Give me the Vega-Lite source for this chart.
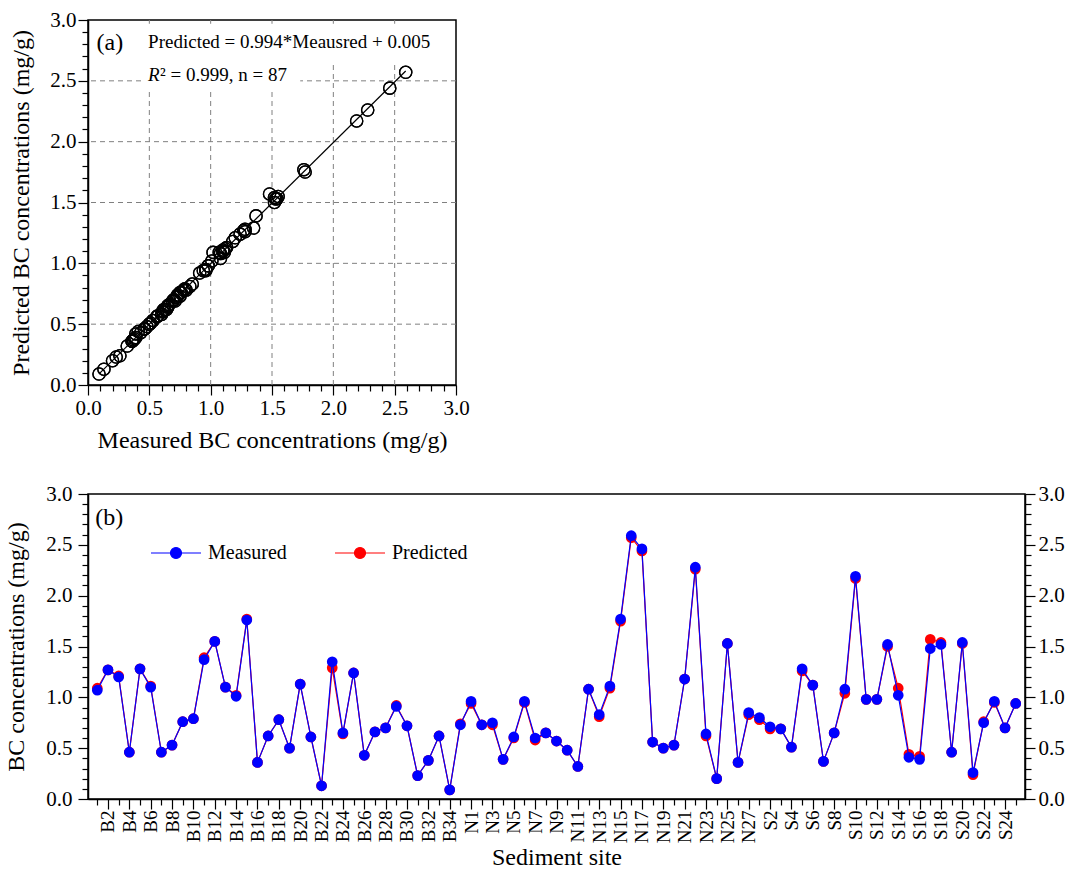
{
  "$schema": "https://vega.github.io/schema/vega-lite/v6.json",
  "padding": {"left": 4, "top": 8, "right": 5, "bottom": 1},
  "background": "white",
  "bounds": "flush",
  "datasets": {
    "grid": [{"g": 0.5}, {"g": 1.0}, {"g": 1.5}, {"g": 2.0}, {"g": 2.5}],
    "bc": [
      {"site": "B1", "measured": 1.07, "predicted": 1.09},
      {"site": "B2", "measured": 1.27, "predicted": 1.27},
      {"site": "B3", "measured": 1.20, "predicted": 1.21},
      {"site": "B4", "measured": 0.46, "predicted": 0.46},
      {"site": "B5", "measured": 1.28, "predicted": 1.28},
      {"site": "B6", "measured": 1.10, "predicted": 1.11},
      {"site": "B7", "measured": 0.46, "predicted": 0.46},
      {"site": "B8", "measured": 0.53, "predicted": 0.53},
      {"site": "B9", "measured": 0.76, "predicted": 0.76},
      {"site": "B10", "measured": 0.79, "predicted": 0.79},
      {"site": "B11", "measured": 1.37, "predicted": 1.39},
      {"site": "B12", "measured": 1.55, "predicted": 1.55},
      {"site": "B13", "measured": 1.10, "predicted": 1.10},
      {"site": "B14", "measured": 1.01, "predicted": 1.02},
      {"site": "B15", "measured": 1.76, "predicted": 1.77},
      {"site": "B16", "measured": 0.36, "predicted": 0.36},
      {"site": "B17", "measured": 0.62, "predicted": 0.62},
      {"site": "B18", "measured": 0.78, "predicted": 0.78},
      {"site": "B19", "measured": 0.50, "predicted": 0.50},
      {"site": "B20", "measured": 1.13, "predicted": 1.13},
      {"site": "B21", "measured": 0.61, "predicted": 0.61},
      {"site": "B22", "measured": 0.13, "predicted": 0.13},
      {"site": "B23", "measured": 1.35, "predicted": 1.29},
      {"site": "B24", "measured": 0.65, "predicted": 0.64},
      {"site": "B25", "measured": 1.24, "predicted": 1.24},
      {"site": "B26", "measured": 0.43, "predicted": 0.43},
      {"site": "B27", "measured": 0.66, "predicted": 0.66},
      {"site": "B28", "measured": 0.70, "predicted": 0.70},
      {"site": "B29", "measured": 0.91, "predicted": 0.92},
      {"site": "B30", "measured": 0.72, "predicted": 0.72},
      {"site": "B31", "measured": 0.23, "predicted": 0.23},
      {"site": "B32", "measured": 0.38, "predicted": 0.38},
      {"site": "B33", "measured": 0.62, "predicted": 0.62},
      {"site": "B34", "measured": 0.09, "predicted": 0.09},
      {"site": "B35", "measured": 0.73, "predicted": 0.74},
      {"site": "N1", "measured": 0.96, "predicted": 0.94},
      {"site": "N2", "measured": 0.73, "predicted": 0.73},
      {"site": "N3", "measured": 0.75, "predicted": 0.73},
      {"site": "N4", "measured": 0.39, "predicted": 0.39},
      {"site": "N5", "measured": 0.61, "predicted": 0.60},
      {"site": "N6", "measured": 0.96, "predicted": 0.95},
      {"site": "N7", "measured": 0.60, "predicted": 0.58},
      {"site": "N8", "measured": 0.65, "predicted": 0.65},
      {"site": "N9", "measured": 0.57, "predicted": 0.57},
      {"site": "N10", "measured": 0.48, "predicted": 0.48},
      {"site": "N11", "measured": 0.32, "predicted": 0.32},
      {"site": "N12", "measured": 1.08, "predicted": 1.08},
      {"site": "N13", "measured": 0.83, "predicted": 0.81},
      {"site": "N14", "measured": 1.11, "predicted": 1.09},
      {"site": "N15", "measured": 1.77, "predicted": 1.75},
      {"site": "N16", "measured": 2.59, "predicted": 2.57},
      {"site": "N17", "measured": 2.46, "predicted": 2.44},
      {"site": "N18", "measured": 0.56, "predicted": 0.56},
      {"site": "N19", "measured": 0.50, "predicted": 0.50},
      {"site": "N20", "measured": 0.53, "predicted": 0.53},
      {"site": "N21", "measured": 1.18, "predicted": 1.18},
      {"site": "N22", "measured": 2.28, "predicted": 2.26},
      {"site": "N23", "measured": 0.64, "predicted": 0.62},
      {"site": "N24", "measured": 0.20, "predicted": 0.20},
      {"site": "N25", "measured": 1.53, "predicted": 1.53},
      {"site": "N26", "measured": 0.36, "predicted": 0.36},
      {"site": "N27", "measured": 0.85, "predicted": 0.83},
      {"site": "S1", "measured": 0.80, "predicted": 0.78},
      {"site": "S2", "measured": 0.71, "predicted": 0.69},
      {"site": "S3", "measured": 0.69, "predicted": 0.69},
      {"site": "S4", "measured": 0.51, "predicted": 0.51},
      {"site": "S5", "measured": 1.28, "predicted": 1.26},
      {"site": "S6", "measured": 1.12, "predicted": 1.12},
      {"site": "S7", "measured": 0.37, "predicted": 0.37},
      {"site": "S8", "measured": 0.65, "predicted": 0.65},
      {"site": "S9", "measured": 1.08, "predicted": 1.04},
      {"site": "S10", "measured": 2.19, "predicted": 2.17},
      {"site": "S11", "measured": 0.98, "predicted": 0.98},
      {"site": "S12", "measured": 0.98, "predicted": 0.98},
      {"site": "S13", "measured": 1.52, "predicted": 1.50},
      {"site": "S14", "measured": 1.02, "predicted": 1.09},
      {"site": "S15", "measured": 0.41, "predicted": 0.44},
      {"site": "S16", "measured": 0.39, "predicted": 0.42},
      {"site": "S17", "measured": 1.48, "predicted": 1.57},
      {"site": "S18", "measured": 1.52, "predicted": 1.54},
      {"site": "S19", "measured": 0.46, "predicted": 0.46},
      {"site": "S20", "measured": 1.54, "predicted": 1.53},
      {"site": "S21", "measured": 0.26, "predicted": 0.24},
      {"site": "S22", "measured": 0.75, "predicted": 0.76},
      {"site": "S23", "measured": 0.96, "predicted": 0.95},
      {"site": "S24", "measured": 0.70, "predicted": 0.70},
      {"site": "S25", "measured": 0.94, "predicted": 0.94}
    ]
  },
  "config": {
    "font": "Liberation Serif",
    "view": {"stroke": "black", "strokeWidth": 1.5},
    "axis": {
      "domainColor": "black", "domainWidth": 1.5,
      "tickColor": "black", "tickWidth": 1.2,
      "labelColor": "black", "titleColor": "black",
      "labelFont": "Liberation Serif", "titleFont": "Liberation Serif",
      "titleFontWeight": "normal", "labelFontSize": 21, "titleFontSize": 24,
      "grid": false, "labelOverlap": false, "labelFlush": false, "labelBound": false
    },
    "text": {"font": "Liberation Serif", "color": "black"}
  },
  "resolve": {"scale": {"color": "independent"}},
  "spacing": 109,
  "vconcat": [
    {
      "width": 368,
      "height": 365,
      "resolve": {"axis": {"x": "independent", "y": "independent"}},
      "layer": [
        {
          "data": {"name": "bc"},
          "mark": {"type": "point", "shape": "circle", "filled": false, "color": "black", "strokeWidth": 1.3, "size": 150, "opacity": 1},
          "encoding": {
            "x": {
              "field": "measured", "type": "quantitative",
              "scale": {"domain": [0, 3], "nice": false},
              "axis": {
                "title": "Measured BC concentrations (mg/g)",
                "values": [0,0.1,0.2,0.3,0.4,0.5,0.6,0.7,0.8,0.9,1,1.1,1.2,1.3,1.4,1.5,1.6,1.7,1.8,1.9,2,2.1,2.2,2.3,2.4,2.5,2.6,2.7,2.8,2.9,3],
                "labelExpr": "abs(datum.value*2-round(datum.value*2))<0.01 ? format(datum.value,'.1f') : ''",
                "tickSize": {"condition": {"test": "abs(datum.value*2-round(datum.value*2))<0.01", "value": 10}, "value": 6},
                "labelPadding": 2, "titlePadding": 10
              }
            },
            "y": {
              "field": "predicted", "type": "quantitative",
              "scale": {"domain": [0, 3], "nice": false},
              "axis": {
                "title": "Predicted BC concentrations (mg/g)",
                "values": [0,0.1,0.2,0.3,0.4,0.5,0.6,0.7,0.8,0.9,1,1.1,1.2,1.3,1.4,1.5,1.6,1.7,1.8,1.9,2,2.1,2.2,2.3,2.4,2.5,2.6,2.7,2.8,2.9,3],
                "labelExpr": "abs(datum.value*2-round(datum.value*2))<0.01 ? format(datum.value,'.1f') : ''",
                "tickSize": {"condition": {"test": "abs(datum.value*2-round(datum.value*2))<0.01", "value": 10}, "value": 6},
                "labelPadding": 2, "titlePadding": 16
              }
            }
          }
        },
        {
          "data": {"name": "grid"},
          "mark": {"type": "rule", "color": "#808080", "strokeDash": [5, 4], "strokeWidth": 1},
          "encoding": {"x": {"field": "g", "type": "quantitative", "axis": null}}
        },
        {
          "data": {"name": "grid"},
          "mark": {"type": "rule", "color": "#808080", "strokeDash": [5, 4], "strokeWidth": 1},
          "encoding": {"y": {"field": "g", "type": "quantitative", "axis": null}}
        },
        {
          "data": {"values": [{}]},
          "mark": {"type": "rect", "color": "white"},
          "encoding": {
            "x": {"datum": 0.45, "type": "quantitative", "axis": null},
            "x2": {"datum": 2.88},
            "y": {"datum": 2.66, "type": "quantitative", "axis": null},
            "y2": {"datum": 2.97}
          }
        },
        {
          "data": {"values": [{}]},
          "mark": {"type": "rect", "color": "white"},
          "encoding": {
            "x": {"datum": 0.45, "type": "quantitative", "axis": null},
            "x2": {"datum": 1.73},
            "y": {"datum": 2.41, "type": "quantitative", "axis": null},
            "y2": {"datum": 2.66}
          }
        },
        {
          "data": {"name": "bc"},
          "transform": [{"regression": "predicted", "on": "measured", "method": "linear"}],
          "mark": {"type": "line", "color": "black", "strokeWidth": 1.2},
          "encoding": {
            "x": {"field": "measured", "type": "quantitative", "axis": null},
            "y": {"field": "predicted", "type": "quantitative", "axis": null}
          }
        },
        {
          "data": {"name": "bc"},
          "mark": {"type": "point", "shape": "circle", "filled": false, "color": "black", "strokeWidth": 1.3, "size": 150, "opacity": 1},
          "encoding": {
            "x": {"field": "measured", "type": "quantitative", "axis": null},
            "y": {"field": "predicted", "type": "quantitative", "axis": null}
          }
        },
        {
          "data": {"values": [{}]},
          "mark": {"type": "text", "text": "(a)", "align": "left", "baseline": "middle", "fontSize": 24},
          "encoding": {
            "x": {"datum": 0.07, "type": "quantitative", "axis": null},
            "y": {"datum": 2.81, "type": "quantitative", "axis": null}
          }
        },
        {
          "data": {"values": [{}]},
          "mark": {"type": "text", "text": "Predicted = 0.994*Meausred + 0.005", "align": "left", "baseline": "middle", "fontSize": 19},
          "encoding": {
            "x": {"datum": 0.49, "type": "quantitative", "axis": null},
            "y": {"datum": 2.82, "type": "quantitative", "axis": null}
          }
        },
        {
          "data": {"values": [{}]},
          "mark": {"type": "text", "text": "R", "align": "left", "baseline": "middle", "fontSize": 19, "fontStyle": "italic"},
          "encoding": {
            "x": {"datum": 0.49, "type": "quantitative", "axis": null},
            "y": {"datum": 2.55, "type": "quantitative", "axis": null}
          }
        },
        {
          "data": {"values": [{}]},
          "mark": {"type": "text", "text": "² = 0.999, n = 87", "align": "left", "baseline": "middle", "fontSize": 19, "dx": 12},
          "encoding": {
            "x": {"datum": 0.49, "type": "quantitative", "axis": null},
            "y": {"datum": 2.55, "type": "quantitative", "axis": null}
          }
        }
      ]
    },
    {
      "width": 937,
      "height": 305,
      "data": {"name": "bc"},
      "resolve": {"axis": {"y": "independent", "x": "independent"}, "legend": {"color": "independent"}},
      "layer": [
        {
          "mark": {"type": "line", "strokeWidth": 1.2},
          "encoding": {
            "x": {
              "field": "site", "type": "ordinal", "sort": null,
              "scale": {"type": "point", "padding": 0.87},
              "axis": {
                "title": "Sediment site",
                "labelAngle": -90, "labelFontSize": 19,
                "labelExpr": "(substring(datum.value,0,1)=='N') == (parseInt(substring(datum.value,1))%2==1) ? datum.label : ''",
                "tickSize": {"condition": {"test": "(substring(datum.value,0,1)=='N') == (parseInt(substring(datum.value,1))%2==1)", "value": 10}, "value": 6},
                "labelPadding": 1, "titlePadding": 3
              }
            },
            "y": {
              "field": "predicted", "type": "quantitative",
              "scale": {"domain": [0, 3], "nice": false},
              "axis": {
                "title": "BC concentrations (mg/g)",
                "orient": "left",
                "values": [0,0.1,0.2,0.3,0.4,0.5,0.6,0.7,0.8,0.9,1,1.1,1.2,1.3,1.4,1.5,1.6,1.7,1.8,1.9,2,2.1,2.2,2.3,2.4,2.5,2.6,2.7,2.8,2.9,3],
                "labelExpr": "abs(datum.value*2-round(datum.value*2))<0.01 ? format(datum.value,'.1f') : ''",
                "tickSize": {"condition": {"test": "abs(datum.value*2-round(datum.value*2))<0.01", "value": 10}, "value": 6},
                "labelPadding": 6, "titlePadding": 17
              }
            },
            "color": {"datum": "Predicted", "type": "nominal", "legend": null}
          }
        },
        {
          "mark": {"type": "point", "shape": "circle", "filled": true, "size": 115, "opacity": 1},
          "encoding": {
            "x": {"field": "site", "type": "ordinal", "sort": null, "axis": null},
            "y": {"field": "predicted", "type": "quantitative", "axis": null},
            "color": {"datum": "Predicted", "type": "nominal", "legend": null}
          }
        },
        {
          "mark": {"type": "line", "strokeWidth": 1.2},
          "encoding": {
            "x": {"field": "site", "type": "ordinal", "sort": null, "axis": null},
            "y": {"field": "measured", "type": "quantitative", "axis": null},
            "color": {"datum": "Measured", "type": "nominal", "legend": null}
          }
        },
        {
          "mark": {"type": "point", "shape": "circle", "filled": true, "size": 115, "opacity": 1},
          "encoding": {
            "x": {"field": "site", "type": "ordinal", "sort": null, "axis": null},
            "y": {
              "field": "measured", "type": "quantitative",
              "axis": {
                "title": null,
                "orient": "right",
                "values": [0,0.1,0.2,0.3,0.4,0.5,0.6,0.7,0.8,0.9,1,1.1,1.2,1.3,1.4,1.5,1.6,1.7,1.8,1.9,2,2.1,2.2,2.3,2.4,2.5,2.6,2.7,2.8,2.9,3],
                "labelExpr": "abs(datum.value*2-round(datum.value*2))<0.01 ? format(datum.value,'.1f') : ''",
                "tickSize": {"condition": {"test": "abs(datum.value*2-round(datum.value*2))<0.01", "value": 10}, "value": 6},
                "labelPadding": 3
              }
            },
            "color": {
              "datum": "Measured", "type": "nominal",
              "scale": {"domain": ["Measured", "Predicted"], "range": ["#0000ff", "#ff0000"]},
              "legend": {
                "title": null, "orient": "none", "legendX": 62, "legendY": 33,
                "direction": "horizontal", "padding": 0,
                "symbolType": "M-1,0L1,0M-0.22,0A0.22,0.22,0,1,1,0.22,0A0.22,0.22,0,1,1,-0.22,0Z",
                "symbolSize": 2500, "symbolStrokeWidth": 1.2, "symbolOpacity": 1,
                "labelFontSize": 20, "labelFont": "Liberation Serif", "labelColor": "black",
                "labelOffset": 6, "columnPadding": 45,
                "encode": {
                  "symbols": {
                    "update": {
                      "stroke": [{"test": "datum.value === 'Measured'", "value": "#0000ff"}, {"value": "#ff0000"}],
                      "fill": [{"test": "datum.value === 'Measured'", "value": "#0000ff"}, {"value": "#ff0000"}]
                    }
                  }
                }
              }
            }
          }
        },
        {
          "transform": [{"filter": "datum.site == 'B1'"}],
          "mark": {"type": "text", "text": "(b)", "align": "left", "baseline": "middle", "fontSize": 24, "dx": -2},
          "encoding": {
            "x": {"field": "site", "type": "ordinal", "sort": null, "axis": null},
            "y": {"datum": 2.76, "type": "quantitative", "axis": null}
          }
        }
      ]
    }
  ]
}
